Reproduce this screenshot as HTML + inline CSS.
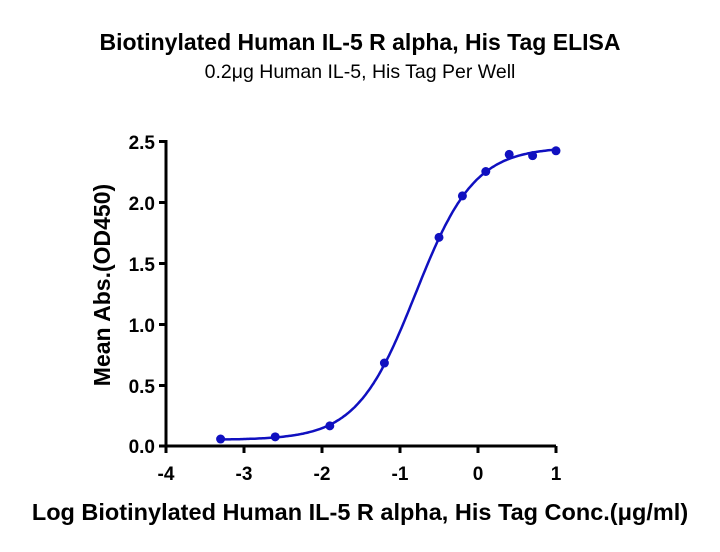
<!DOCTYPE html><html><head><style>body{margin:0;background:#fff}svg{font-family:"Liberation Sans",sans-serif}</style></head><body>
<svg width="720" height="547" xmlns="http://www.w3.org/2000/svg">
<text x="360" y="50" text-anchor="middle" font-size="23" font-weight="bold">Biotinylated Human IL-5 R alpha, His Tag ELISA</text>
<text x="360" y="78" text-anchor="middle" font-size="19.5">0.2μg Human IL-5, His Tag Per Well</text>
<g stroke="#000" stroke-width="3" fill="none">
<path d="M166,140 V446 H556"/>
<path d="M159,141.5 H166 M159,202.5 H166 M159,263.5 H166 M159,324.5 H166 M159,385.5 H166 M159,446 H166"/>
<path d="M166,446 V453 M244,446 V453 M322,446 V453 M400,446 V453 M478,446 V453 M556,446 V453"/>
</g>
<g font-size="19" font-weight="bold" text-anchor="end">
<text x="155" y="149">2.5</text><text x="155" y="210">2.0</text><text x="155" y="271">1.5</text><text x="155" y="332">1.0</text><text x="155" y="393">0.5</text><text x="155" y="453">0.0</text></g>
<g font-size="19" font-weight="bold" text-anchor="middle">
<text x="166" y="480">-4</text><text x="244" y="480">-3</text><text x="322" y="480">-2</text><text x="400" y="480">-1</text><text x="478" y="480">0</text><text x="556" y="480">1</text></g>
<text transform="translate(110,285) rotate(-90)" text-anchor="middle" font-size="23" font-weight="bold">Mean Abs.(OD450)</text>
<text x="360" y="520" text-anchor="middle" font-size="23.5" font-weight="bold">Log Biotinylated Human IL-5 R alpha, His Tag Conc.(μg/ml)</text>
<path id="c" fill="none" stroke="#1010c0" stroke-width="2.5"/>
<g id="p" fill="#1010c0"></g>
</svg>
<script>
var X=function(v){return 166+(v+4)*78},Y=function(v){return 446-v*122};
var f=function(x){return 0.05+2.4/(1+Math.pow(10,(-0.8-x)*1.15))};
var d="";for(var x=-3.3;x<=1.001;x+=0.02){d+=(d?"L":"M")+X(x).toFixed(1)+","+Y(f(x)).toFixed(1)}
document.getElementById("c").setAttribute("d",d);
var pts=[[-3.3,0.057],[-2.6,0.075],[-1.9,0.165],[-1.2,0.68],[-0.5,1.71],[-0.2,2.05],[0.1,2.25],[0.4,2.39],[0.7,2.38],[1.0,2.42]];
var g=document.getElementById("p"),s="";pts.forEach(function(p){s+='<circle cx="'+X(p[0])+'" cy="'+Y(p[1])+'" r="4.5"/>'});g.innerHTML=s;
</script>
</body></html>
